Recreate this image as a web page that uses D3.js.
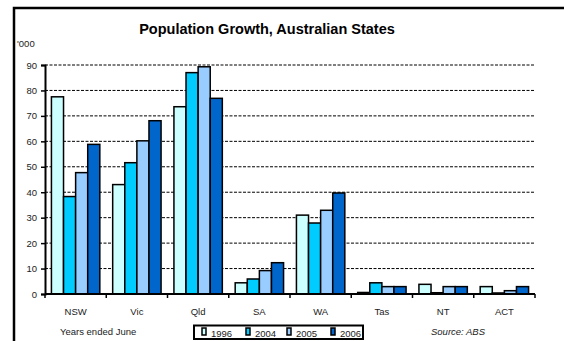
<!DOCTYPE html>
<html lang="en">
<head>
<meta charset="UTF-8">
<title>Population Growth, Australian States</title>
<script src="https://d3js.org/d3.v7.min.js"></script>
<style>
    body { margin: 0; background: #fff; overflow: hidden; }
    svg { display: block; font-family: "Liberation Sans", Arial, sans-serif; }
</style>
</head>
<body>
<div id="chart"></div>
<script>
    // Data ('000 persons)
    const states = ["NSW", "Vic", "Qld", "SA", "WA", "Tas", "NT", "ACT"];
    const years = ["1996", "2004", "2005", "2006"];
    const growth1996 = [77.5, 43, 73.6, 4.4, 31, 0.6, 3.8, 2.9];
    const growth2004 = [38.3, 51.6, 87, 5.9, 27.9, 4.4, 0.5, 0.4];
    const growth2005 = [47.7, 60.2, 89.3, 9.2, 32.9, 2.9, 2.9, 1.3];
    const growth2006 = [58.8, 68.1, 76.9, 12.3, 39.7, 2.9, 2.9, 2.9];
    const yTicks = [0, 10, 20, 30, 40, 50, 60, 70, 80, 90];
    const colors = ["#ccffff", "#00ccff", "#99ccff", "#0066cc"];

    const series = [growth1996, growth2004, growth2005, growth2006];

    const width = 564, height = 341;
    const plot = { left: 45, right: 535, top: 65, bottom: 294 };
    const fontSize = 9.5;

    const svg = d3.select("#chart").append("svg")
        .attr("width", width)
        .attr("height", height);

    // outer frame (top and left edges visible)
    svg.append("path")
        .attr("d", `M14,${height} L14,8 L${width},8`)
        .attr("fill", "none")
        .attr("stroke", "#000")
        .attr("stroke-width", 2.5);

    svg.append("text")
        .attr("x", 267)
        .attr("y", 34)
        .attr("text-anchor", "middle")
        .attr("font-size", 14.5)
        .attr("font-weight", "bold")
        .text("Population Growth, Australian States");

    svg.append("text")
        .attr("x", 17)
        .attr("y", 47)
        .attr("font-size", fontSize)
        .attr("fill", "#222")
        .text("'000");

    const x = d3.scaleBand()
        .domain(states)
        .range([plot.left, plot.right])
        .paddingInner(0.21)
        .paddingOuter(0.105);

    const xSub = d3.scaleBand()
        .domain(years)
        .range([0, x.bandwidth()]);

    const y = d3.scaleLinear()
        .domain([0, 90])
        .range([plot.bottom, plot.top]);

    // dashed gridlines
    svg.append("g")
        .selectAll("line")
        .data(yTicks.filter(d => d > 0))
        .join("line")
        .attr("x1", plot.left)
        .attr("x2", plot.right)
        .attr("y1", d => y(d))
        .attr("y2", d => y(d))
        .attr("stroke", "#000")
        .attr("stroke-width", 1)
        .attr("stroke-dasharray", "3,1.5");

    // bars
    const groups = svg.append("g")
        .selectAll("g")
        .data(series)
        .join("g")
        .attr("fill", (d, i) => colors[i]);

    groups.selectAll("rect")
        .data((vals, i) => vals.map((v, j) => ({ state: states[j], year: years[i], value: v })))
        .join("rect")
        .attr("x", d => x(d.state) + xSub(d.year))
        .attr("width", xSub.bandwidth())
        .attr("y", d => y(d.value))
        .attr("height", d => y(0) - y(d.value))
        .attr("stroke", "#000")
        .attr("stroke-width", 1.5);

    // y axis
    const yAxis = svg.append("g")
        .attr("transform", `translate(${plot.left},0)`)
        .call(d3.axisLeft(y).tickValues(yTicks).tickSize(4).tickPadding(4));
    yAxis.select(".domain").attr("stroke-width", 2);
    yAxis.selectAll(".tick line").attr("stroke-width", 1.5);
    yAxis.selectAll("text")
        .attr("font-family", "\"Liberation Sans\", Arial, sans-serif")
        .attr("font-size", fontSize)
        .attr("fill", "#222");

    // x axis: ticks on the category boundaries
    const xAxis = svg.append("g")
        .attr("transform", `translate(0,${plot.bottom})`);
    const step = (plot.right - plot.left) / states.length;
    xAxis.append("line")
        .attr("x1", plot.left)
        .attr("x2", plot.right)
        .attr("stroke", "#000")
        .attr("stroke-width", 2);
    xAxis.selectAll(".xtick")
        .data(d3.range(states.length + 1))
        .join("line")
        .attr("class", "xtick")
        .attr("x1", i => plot.left + i * step)
        .attr("x2", i => plot.left + i * step)
        .attr("y1", 0)
        .attr("y2", 4)
        .attr("stroke", "#000")
        .attr("stroke-width", 1.5);
    xAxis.selectAll(".xlabel")
        .data(states)
        .join("text")
        .attr("class", "xlabel")
        .attr("x", d => x(d) + x.bandwidth() / 2)
        .attr("y", 21)
        .attr("text-anchor", "middle")
        .attr("font-size", fontSize)
        .attr("fill", "#222")
        .text(d => d);

    svg.append("text")
        .attr("x", 60)
        .attr("y", 335)
        .attr("font-size", fontSize)
        .attr("fill", "#222")
        .text("Years ended June");

    svg.append("text")
        .attr("x", 431)
        .attr("y", 335)
        .attr("font-size", fontSize)
        .attr("font-style", "italic")
        .attr("fill", "#222")
        .text("Source: ABS");

    // legend
    const legend = svg.append("g");
    legend.append("rect")
        .attr("x", 194)
        .attr("y", 325.5)
        .attr("width", 169)
        .attr("height", 13.5)
        .attr("fill", "#fff")
        .attr("stroke", "#000")
        .attr("stroke-width", 2);
    const legendX = [202, 246, 287, 331];
    const item = legend.selectAll(".item")
        .data(years)
        .join("g")
        .attr("class", "item")
        .attr("transform", (d, i) => `translate(${legendX[i]},328)`);
    item.append("rect")
        .attr("width", 4)
        .attr("height", 7)
        .attr("fill", (d, i) => colors[i])
        .attr("stroke", "#000")
        .attr("stroke-width", 1.5);
    item.append("text")
        .attr("x", 9)
        .attr("y", 8.5)
        .attr("font-size", fontSize)
        .attr("fill", "#222")
        .text(d => d);
</script>
</body>
</html>
